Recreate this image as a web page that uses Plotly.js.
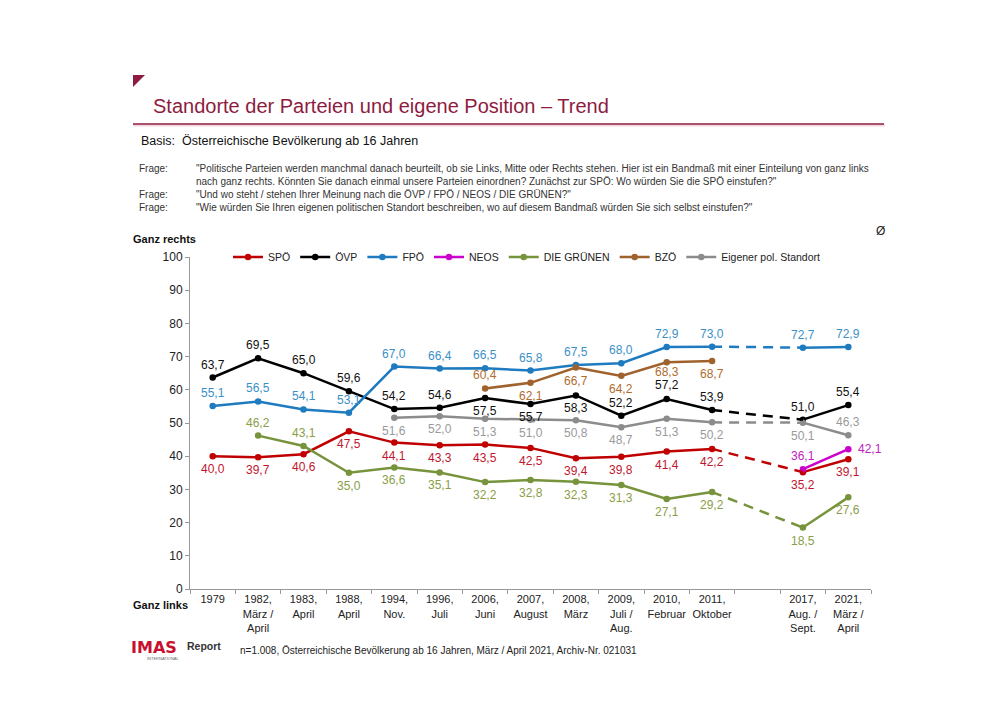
<!DOCTYPE html>
<html>
<head>
<meta charset="utf-8">
<script src="https://cdn.plot.ly/plotly-3.0.1.min.js"></script>
<style>
html,body{margin:0;padding:0;background:#fff;}
#chart{width:1000px;height:707px;}
</style>
</head>
<body>
<div id="chart"></div>
<script>
// ---- data ----
const categories = ["1979","1982,<br>März /<br>April","1983,<br>April","1988,<br>April","1994,<br>Nov.","1996,<br>Juli","2006,<br>Juni","2007,<br>August","2008,<br>März","2009,<br>Juli /<br>Aug.","2010,<br>Februar","2011,<br>Oktober"," ","2017,<br>Aug. /<br>Sept.","2021,<br>März /<br>April"];
const seriesNames = ["SPÖ","ÖVP","FPÖ","NEOS","DIE GRÜNEN","BZÖ","Eigener pol. Standort"];
const spoe   = [40.0,39.7,40.6,47.5,44.1,43.3,43.5,42.5,39.4,39.8,41.4,42.2,null,35.2,39.1];
const oevp   = [63.7,69.5,65.0,59.6,54.2,54.6,57.5,55.7,58.3,52.2,57.2,53.9,null,51.0,55.4];
const fpoe   = [55.1,56.5,54.1,53.1,67.0,66.4,66.5,65.8,67.5,68.0,72.9,73.0,null,72.7,72.9];
const neos   = [null,null,null,null,null,null,null,null,null,null,null,null,null,36.1,42.1];
const gruene = [null,46.2,43.1,35.0,36.6,35.1,32.2,32.8,32.3,31.3,27.1,29.2,null,18.5,27.6];
const bzoe   = [null,null,null,null,null,null,60.4,62.1,66.7,64.2,68.3,68.7,null,null,null];
const eigen  = [null,null,null,null,51.6,52.0,51.3,51.0,50.8,48.7,51.3,50.2,null,50.1,46.3];

// ---- styles ----
const lineColors  = ["#C00000","#000000","#1F7BC0","#CC00CC","#77933C","#A0622D","#8C8C8C"];
const labelColors = ["#C0172E","#111111","#3A8FC8","#C020C0","#8A9E48","#B06C2C","#9A9A9A"];
// label placement per series: 'a' above, 'b' below, 'r' right, 'A'/'B' slightly farther/closer
const placements = [
  "bbbbbbbbbbbb bb",
  "aaaaaabbbaAa aa",
  "aaaaaaaaaaaa aa",
  "             ar",
  "aaabbbbbbbbb bb",
  "      abbbBb   ",
  "    bbbbbbbb ba"
];
const allData = [spoe,oevp,fpoe,neos,gruene,bzoe,eigen];

const W=1000,H=707,L=190,R=871,T=257,B=589;
const px = x => (x-L)/(R-L);
const py = y => (B-y)/(B-T);
const FONT = "Liberation Sans, Arial, sans-serif";

const traces = [];
allData.forEach((arr,i)=>{
  traces.push({
    type:"scatter", mode:"lines+markers", name:seriesNames[i],
    x:categories, y:arr, connectgaps:false,
    line:{color:lineColors[i],width:2.5},
    marker:{color:lineColors[i],size:6.5},
    hoverinfo:"x+y"
  });
});
// dashed bridge over the empty slot (2011 -> 2017)
allData.forEach((arr,i)=>{
  if(arr[11]!=null && arr[13]!=null){
    traces.push({
      type:"scatter", mode:"lines", showlegend:false,
      x:[categories[11],categories[13]], y:[arr[11],arr[13]],
      line:{color:lineColors[i],width:2.5,dash:"10px,7px"}, hoverinfo:"skip"
    });
  }
});

const annotations = [];
allData.forEach((arr,i)=>{
  arr.forEach((v,j)=>{
    if(v==null) return;
    const p = placements[i][j];
    const a = {x:j, y:v, xref:"x", yref:"y", showarrow:false,
      text:v.toFixed(1).replace(".",","),
      font:{family:FONT,size:12,color:labelColors[i]}};
    if(p==="a") a.yshift=13;
    else if(p==="A") a.yshift=14;
    else if(p==="b") a.yshift=-13;
    else if(p==="B") a.yshift=-10;
    else if(p==="r"){a.xshift=22;}
    annotations.push(a);
  });
});

// page texts
const txt = (x,y,text,opts={}) => Object.assign({xref:"paper",yref:"paper",x:px(x),y:py(y),
  xanchor:"left",yanchor:"middle",showarrow:false,text:text,
  font:{family:FONT,size:12,color:"#222"}},opts);
annotations.push(txt(151,106,"Standorte der Parteien und eigene Position – Trend",{font:{family:FONT,size:20,color:"#8E1B40"}}));
annotations.push(txt(139,141,"Basis:  Österreichische Bevölkerung ab 16 Jahren",{font:{family:FONT,size:12.5,color:"#111"}}));
const qf = {family:FONT,size:10,color:"#333"};
annotations.push(txt(137,168,"Frage:",{font:qf}));
annotations.push(txt(194,168,"\"Politische Parteien werden manchmal danach beurteilt, ob sie Links, Mitte oder Rechts stehen. Hier ist ein Bandmaß mit einer Einteilung von ganz links",{font:qf}));
annotations.push(txt(194,181,"nach ganz rechts. Könnten Sie danach einmal unsere Parteien einordnen? Zunächst zur SPÖ: Wo würden Sie die SPÖ einstufen?\"",{font:qf}));
annotations.push(txt(137,194,"Frage:",{font:qf}));
annotations.push(txt(194,194,"\"Und wo steht / stehen Ihrer Meinung nach die ÖVP / FPÖ / NEOS / DIE GRÜNEN?\"",{font:qf}));
annotations.push(txt(137,208,"Frage:",{font:qf}));
annotations.push(txt(194,208,"\"Wie würden Sie Ihren eigenen politischen Standort beschreiben, wo auf diesem Bandmaß würden Sie sich selbst einstufen?\"",{font:qf}));
annotations.push(txt(131,239,"<b>Ganz rechts</b>",{font:{family:FONT,size:11,color:"#111"}}));
annotations.push(txt(874,231,"Ø",{font:{family:FONT,size:12,color:"#222"}}));
annotations.push(txt(131,605,"<b>Ganz links</b>",{font:{family:FONT,size:11,color:"#111"}}));
annotations.push(txt(238,650,"n=1.008, Österreichische Bevölkerung ab 16 Jahren, März / April 2021, Archiv-Nr. 021031",{font:{family:FONT,size:10,color:"#222"}}));
annotations.push(txt(129,647,"<b>IMAS</b>",{font:{family:"DejaVu Sans, sans-serif",size:16,color:"#C8102E"}}));
annotations.push(txt(185,646,"<b>Report</b>",{font:{family:FONT,size:10.5,color:"#333"}}));
annotations.push(txt(145,658,"INTERNATIONAL",{font:{family:FONT,size:4,color:"#666"}}));

const shapes = [
  {type:"path",xref:"paper",yref:"paper",
   path:`M ${px(133)} ${py(75)} L ${px(145)} ${py(75)} L ${px(133)} ${py(87)} Z`,
   fillcolor:"#8E1B40",line:{width:0}},
  {type:"line",xref:"paper",yref:"paper",x0:px(133),x1:px(885),y0:py(125.5),y1:py(125.5),line:{color:"#F0D8DE",width:2}},
  {type:"line",xref:"paper",yref:"paper",x0:px(133),x1:px(884),y0:py(124),y1:py(124),line:{color:"#8E1B40",width:1.3}}
];

const layout = {
  width:W,height:H,
  margin:{l:L,r:W-R,t:T,b:H-B,pad:0},
  paper_bgcolor:"#fff",plot_bgcolor:"#fff",
  font:{family:FONT,size:12,color:"#222"},
  showlegend:true,
  legend:{orientation:"h",x:px(228),y:1.0,xanchor:"left",yanchor:"middle",
    font:{family:FONT,size:10.5,color:"#222"},bgcolor:"rgba(0,0,0,0)",
    itemwidth:30,tracegroupgap:0},
  xaxis:{type:"category",categoryorder:"array",categoryarray:categories,
    range:[-0.5,14.5],tickson:"boundaries",ticks:"outside",ticklen:4,tickcolor:"#999",
    showline:true,linecolor:"#999",linewidth:1,showgrid:false,zeroline:false,tickangle:0,
    tickfont:{family:FONT,size:11,color:"#222"},fixedrange:true},
  yaxis:{range:[0,100],dtick:10,ticks:"outside",ticklen:4,tickcolor:"#999",
    showline:true,linecolor:"#999",linewidth:1,showgrid:false,zeroline:false,
    tickfont:{family:FONT,size:12,color:"#222"},fixedrange:true},
  annotations:annotations, shapes:shapes
};

Plotly.newPlot("chart",traces,layout,{displayModeBar:false,staticPlot:true});
</script>
</body>
</html>
